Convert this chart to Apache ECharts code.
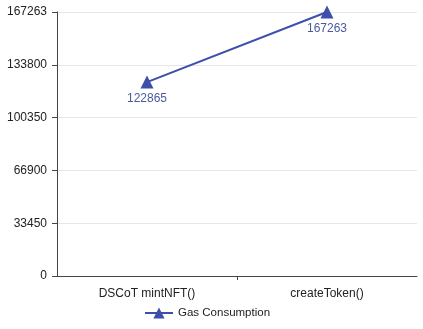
<!DOCTYPE html>
<html>
<head>
<meta charset="utf-8">
<script src="https://cdn.jsdelivr.net/npm/echarts@6/dist/echarts.min.js"></script>
<style>
  html, body { margin: 0; padding: 0; background: #fff; }
  #chart { width: 423px; height: 329px; }
</style>
</head>
<body>
<div id="chart"></div>
<script>
  var categories = ['DSCoT mintNFT()', 'createToken()'];
  var gasValues = [122865, 167263];
  var yTickLabels = ['0', '33450', '66900', '100350', '133800', '167263'];
  var yMax = 167263;

  var chart = echarts.init(document.getElementById('chart'));
  var option = {
    animation: false,
    textStyle: { fontFamily: 'Liberation Sans, Arial, sans-serif' },
    grid: { left: 57, right: 6, top: 12, bottom: 53 },
    legend: {
      bottom: 5,
      left: 139,
      itemWidth: 28,
      itemHeight: 14,
      itemGap: 9,
      textStyle: { color: '#222', fontSize: 11.5 },
      data: ['Gas Consumption']
    },
    xAxis: [{
      type: 'category',
      data: categories,
      boundaryGap: true,
      axisLine: { lineStyle: { color: '#444', width: 1 } },
      axisTick: { show: false },
      axisLabel: { color: '#222', fontSize: 12, margin: 12 }
    }, {
      // only the divider tick between the two categories
      type: 'value',
      position: 'bottom',
      offset: 0,
      min: 0,
      max: categories.length,
      axisLine: { show: false },
      axisLabel: { show: false },
      splitLine: { show: false },
      axisTick: {
        show: true,
        length: 4,
        customValues: [1],
        lineStyle: { color: '#444' }
      }
    }],
    yAxis: {
      type: 'value',
      min: 0,
      max: yMax,
      interval: yMax / 5,
      axisLine: { show: true, lineStyle: { color: '#444', width: 1 } },
      axisTick: { show: true, length: 5, lineStyle: { color: '#444' } },
      axisLabel: {
        color: '#222',
        fontSize: 12,
        margin: 10,
        formatter: function (v) {
          var i = Math.round(v / (yMax / 5));
          return yTickLabels[i];
        }
      },
      splitLine: { show: true, lineStyle: { color: '#e6e6e6' } }
    },
    series: [{
      name: 'Gas Consumption',
      type: 'line',
      xAxisIndex: 0,
      data: gasValues,
      symbol: 'triangle',
      symbolSize: 13,
      itemStyle: { color: '#3d4faa' },
      lineStyle: { color: '#3d4faa', width: 2 },
      label: {
        show: true,
        position: 'bottom',
        distance: 4,
        color: '#4a5a9e',
        fontSize: 12
      }
    }]
  };
  chart.setOption(option);
</script>
</body>
</html>
